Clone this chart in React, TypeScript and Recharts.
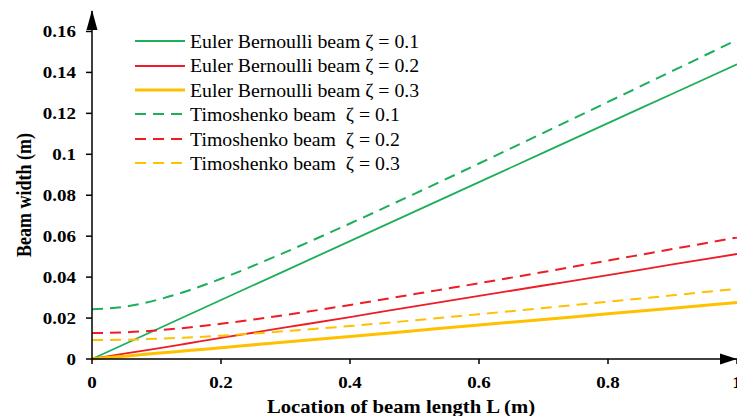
import React from "react";
import {
  LineChart,
  Line,
  XAxis,
  YAxis,
  Legend,
  ReferenceDot,
} from "recharts";

// location along the beam (m)
const positions = [0, 0.05, 0.1, 0.15, 0.2, 0.3, 0.4, 0.5, 0.6, 0.7, 0.8, 0.9, 1];

// Euler Bernoulli beam widths
const euler01 = [0, 0.0072, 0.0144, 0.0216, 0.0288, 0.0432, 0.0576, 0.072, 0.0864, 0.1008, 0.1152, 0.1296, 0.144];
const euler02 = [0, 0.0026, 0.0051, 0.0077, 0.0103, 0.0154, 0.0205, 0.0257, 0.0308, 0.0359, 0.041, 0.0462, 0.0513];
const euler03 = [0, 0.0014, 0.0028, 0.0041, 0.0055, 0.0083, 0.011, 0.0138, 0.0166, 0.0193, 0.0221, 0.0248, 0.0276];

// Timoshenko beam widths
const timo01 = [0.0243, 0.0255, 0.0288, 0.0335, 0.0392, 0.0522, 0.0662, 0.0807, 0.0955, 0.1105, 0.1256, 0.1407, 0.1559];
const timo02 = [0.0127, 0.013, 0.014, 0.0154, 0.0172, 0.0215, 0.0264, 0.0317, 0.037, 0.0425, 0.0481, 0.0537, 0.0594];
const timo03 = [0.0093, 0.0094, 0.0099, 0.0105, 0.0114, 0.0136, 0.0161, 0.0189, 0.0219, 0.0249, 0.028, 0.0311, 0.0343];

const xTicks = [0, 0.2, 0.4, 0.6, 0.8, 1];
const yTicks = [0, 0.02, 0.04, 0.06, 0.08, 0.1, 0.12, 0.14, 0.16];

const GREEN = "#1DAE5A";
const RED = "#EE1C24";
const YELLOW = "#FFC000";

const series = [
  { key: "eb1", name: "Euler Bernoulli beam \u03b6 = 0.1", color: GREEN, width: 1.8, dash: undefined },
  { key: "eb2", name: "Euler Bernoulli beam \u03b6 = 0.2", color: RED, width: 1.8, dash: undefined },
  { key: "eb3", name: "Euler Bernoulli beam \u03b6 = 0.3", color: YELLOW, width: 3, dash: undefined },
  { key: "t1", name: "Timoshenko beam  \u03b6 = 0.1", color: GREEN, width: 2, dash: "11 7" },
  { key: "t2", name: "Timoshenko beam  \u03b6 = 0.2", color: RED, width: 2, dash: "11 7" },
  { key: "t3", name: "Timoshenko beam  \u03b6 = 0.3", color: YELLOW, width: 2, dash: "11 7" },
];

const data = positions.map((x, i) => ({
  x,
  eb1: euler01[i],
  eb2: euler02[i],
  eb3: euler03[i],
  t1: timo01[i],
  t2: timo02[i],
  t3: timo03[i],
}));

const FONT = "Liberation Serif, Times New Roman, serif";
// the source picture is stretched sideways a little
const STRETCH = 1.15;

const boldText = {
  fontFamily: FONT,
  fontWeight: 700,
  fill: "#000",
};

const XTick = (props: any) => {
  const { x, y, payload } = props;
  return (
    <text
      transform={`translate(${x},${y + 24}) scale(${STRETCH},1)`}
      textAnchor="middle"
      style={{ ...boldText, fontSize: 16.5 }}
    >
      {payload.value}
    </text>
  );
};

const YTick = (props: any) => {
  const { x, y, payload } = props;
  return (
    <text
      transform={`translate(${x},${y + 5.5}) scale(${STRETCH},1)`}
      textAnchor="end"
      style={{ ...boldText, fontSize: 16.5 }}
    >
      {payload.value}
    </text>
  );
};

const LegendBox = () => (
  <div style={{ fontFamily: FONT, fontSize: 19.8, color: "#000", lineHeight: "24.4px" }}>
    {series.map((s) => (
      <div key={s.key} style={{ display: "flex", alignItems: "center", whiteSpace: "pre" }}>
        <svg width={52} height={10} style={{ marginRight: 3 }}>
          <line
            x1={0}
            y1={5}
            x2={50}
            y2={5}
            stroke={s.color}
            strokeWidth={s.width}
            strokeDasharray={s.dash}
          />
        </svg>
        <span>{s.name}</span>
      </div>
    ))}
  </div>
);

const UpArrow = (props: any) => {
  const { cx, cy } = props;
  return (
    <polygon
      points={`${cx},${cy - 1} ${cx - 5.5},${cy + 19} ${cx + 5.5},${cy + 19}`}
      fill="#000"
    />
  );
};

const RightArrow = (props: any) => {
  const { cx, cy } = props;
  return (
    <polygon
      points={`${cx},${cy} ${cx - 17},${cy - 5.5} ${cx - 17},${cy + 5.5}`}
      fill="#000"
    />
  );
};

export default function App() {
  return (
    <div style={{ position: "absolute", left: 0, top: 0, background: "#fff" }}>
      <LineChart
        width={737}
        height={416}
        data={data}
        margin={{ top: 11, right: 0, bottom: 0, left: 0 }}
      >
        <XAxis
          dataKey="x"
          type="number"
          domain={[0, 1]}
          ticks={xTicks}
          interval={0}
          height={57}
          tickSize={5}
          tickMargin={0}
          stroke="#000"
          strokeWidth={1.5}
          tick={<XTick />}
          label={{
            content: (p: any) => (
              <text
                transform={`translate(401,${p.viewBox.y + 54}) scale(${STRETCH},1)`}
                textAnchor="middle"
                style={{ ...boldText, fontSize: 18 }}
              >
                Location of beam length L (m)
              </text>
            ),
          }}
        />
        <YAxis
          type="number"
          domain={[0, 0.17]}
          ticks={yTicks}
          interval={0}
          width={92}
          tickSize={6}
          tickMargin={10}
          stroke="#000"
          strokeWidth={1.5}
          tick={<YTick />}
          label={{
            content: () => (
              <text
                transform={`translate(31,195) rotate(-90) scale(1,${STRETCH})`}
                textAnchor="middle"
                style={{ ...boldText, fontSize: 18 }}
              >
                Beam width (m)
              </text>
            ),
          }}
        />
        <Legend
          layout="horizontal"
          verticalAlign="middle"
          align="center"
          content={() => <LegendBox />}
          wrapperStyle={{ left: 135, top: 29, width: "auto" }}
        />
        {series.map((s) => (
          <Line
            key={s.key}
            dataKey={s.key}
            name={s.name}
            stroke={s.color}
            strokeWidth={s.width}
            strokeDasharray={s.dash}
            dot={false}
            type="monotone"
            isAnimationActive={false}
          />
        ))}
        <ReferenceDot x={0} y={0.17} r={0} ifOverflow="visible" shape={UpArrow} />
        <ReferenceDot x={1} y={0} r={0} ifOverflow="visible" shape={RightArrow} />
      </LineChart>
    </div>
  );
}
